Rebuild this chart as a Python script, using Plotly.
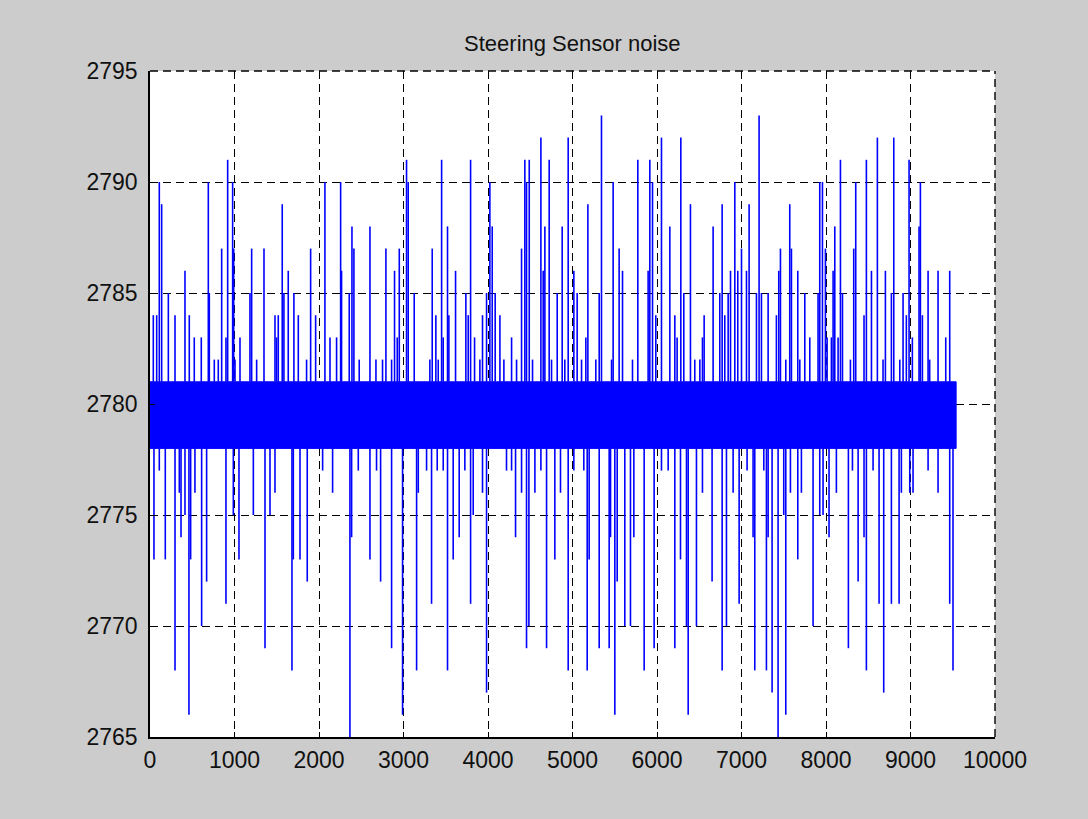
import plotly.graph_objects as go

# Steering angle sensor readings: a dense noise band plus isolated excursions
band_low = 2778
band_high = 2781
sample_count = 9540

up_x = [39, 79, 110, 138, 217, 296, 414, 465, 524, 607, 690, 702, 761, 808, 848, 899, 919, 978, 990,
        1006, 1065, 1183, 1203, 1262, 1349, 1479, 1498, 1518, 1565, 1585, 1636, 1703, 1755, 1853, 1901,
        1960, 2070, 2130, 2208, 2256, 2267, 2358, 2390, 2413,
        2476, 2603, 2674, 2752, 2792, 2859, 2894, 2926, 2950, 3036, 3056, 3127, 3312, 3340, 3383, 3411,
        3451, 3470, 3521, 3537, 3616, 3738, 3766, 3794, 3841, 3904, 3935, 3983, 4022, 4050, 4085, 4141,
        4188, 4279, 4338, 4397, 4436, 4456, 4488, 4527, 4626, 4653, 4673, 4724, 4752, 4819, 4878, 4909,
        4949, 5016, 5055, 5107, 5158, 5182, 5276, 5316, 5343, 5462, 5481, 5552, 5592, 5710, 5773, 5895,
        5915, 5947, 5986, 6053, 6152, 6211, 6238, 6282, 6317, 6396, 6447, 6507, 6538, 6558, 6664, 6743,
        6771, 6802, 6842, 6870, 6921, 6956, 7000, 7059, 7090, 7177, 7208, 7236, 7315, 7413, 7441,
        7461, 7524, 7571, 7591, 7666, 7690, 7749, 7808, 7906, 7926, 7958, 7993, 8013, 8064, 8084, 8104,
        8143, 8171, 8195, 8289, 8328, 8352, 8450, 8478, 8538, 8608, 8675, 8703, 8774, 8802, 8873, 8912,
        8951, 8983, 9022, 9101, 9117, 9141, 9208, 9227, 9326, 9417, 9464]
up_val = [2784, 2784, 2790, 2789, 2785, 2784, 2786, 2784, 2783, 2783, 2790, 2785, 2782, 2782, 2787, 2783, 2791, 2790, 2787,
          2782, 2783, 2785, 2787, 2782, 2787, 2784, 2783, 2784, 2789, 2785, 2786, 2785, 2784, 2782, 2787,
          2784, 2790, 2783, 2783, 2790, 2786, 2785, 2788, 2787,
          2782, 2788, 2782, 2782, 2787, 2782, 2786, 2783, 2787, 2791, 2790, 2785, 2782, 2787, 2784, 2782,
          2791, 2783, 2788, 2784, 2786, 2785, 2784, 2791, 2783, 2782, 2784, 2785, 2790, 2788, 2785, 2784,
          2782, 2783, 2782, 2787, 2791, 2790, 2791, 2782, 2792, 2786, 2788, 2791, 2782, 2785, 2788, 2782,
          2792, 2786, 2785, 2782, 2783, 2789, 2782, 2785, 2793, 2782, 2790, 2787, 2786, 2782, 2791, 2786,
          2791, 2790, 2784, 2792, 2788, 2784, 2783, 2792, 2785, 2789, 2782, 2782, 2783, 2784, 2788, 2785,
          2789, 2784, 2785, 2786, 2790, 2786, 2787, 2786, 2789, 2785, 2793, 2785, 2785, 2784, 2786,
          2787, 2782, 2789, 2787, 2786, 2782, 2785, 2783, 2785, 2790, 2790, 2787, 2783, 2783, 2786, 2788,
          2783, 2791, 2785, 2782, 2787, 2790, 2784, 2791, 2786, 2792, 2782, 2786, 2785, 2792, 2782, 2785,
          2784, 2791, 2783, 2788, 2790, 2784, 2786, 2782, 2786, 2783, 2786]

down_x = [47, 110, 181, 296, 347, 367, 414, 461, 481, 532, 611, 670, 899, 986, 1053, 1223, 1361, 1420,
          1479, 1680, 1696, 1775, 1861, 2043, 2161, 2366, 2386,
          2465, 2603, 2681, 2729, 2859, 2989, 3155, 3175, 3273, 3332, 3399, 3470, 3521, 3588, 3659, 3726,
          3794, 3825, 3935, 3983, 4219, 4279, 4326, 4397, 4456, 4484, 4555, 4626, 4693, 4791, 4858, 4949,
          5016, 5134, 5174, 5197, 5316, 5434, 5450, 5501, 5529, 5619, 5686, 5726, 5848, 5966, 6053, 6132,
          6211, 6278, 6349, 6369, 6467, 6538, 6652, 6771, 6822, 6901, 6972, 7066, 7137, 7157, 7264, 7295,
          7315, 7362, 7433,
          7500, 7524, 7579, 7666, 7709, 7847, 7926, 7965, 8036, 8123, 8265, 8313, 8380, 8450, 8478, 8557,
          8628, 8683, 8774, 8865, 8892, 8991, 9030, 9208, 9326, 9464, 9503]
down_val = [2773, 2777, 2773, 2768, 2776, 2774, 2775, 2766, 2773, 2776, 2770, 2772, 2771, 2775, 2773, 2775, 2769, 2775,
            2776, 2768, 2773, 2773, 2772, 2777, 2776, 2765, 2774,
            2777, 2773, 2777, 2772, 2769, 2766, 2768, 2776, 2777, 2771, 2777, 2777, 2768, 2773, 2774, 2777,
            2771, 2775, 2776, 2767, 2777, 2777, 2774, 2776, 2769, 2770, 2776, 2777, 2769, 2773, 2776, 2768,
            2777, 2777, 2768, 2773, 2769, 2769, 2774, 2766, 2772, 2770, 2770, 2774, 2768, 2769, 2777, 2777,
            2769, 2773, 2770, 2766, 2770, 2776, 2772, 2768, 2770, 2776, 2771, 2777, 2774, 2768, 2777, 2768,
            2774, 2767, 2765,
            2775, 2766, 2776, 2773, 2776, 2770, 2775, 2775, 2774, 2776, 2769, 2777, 2772, 2774, 2768, 2777,
            2771, 2767, 2771, 2771, 2776, 2776, 2776, 2777, 2776, 2771, 2768]

x_ticks = [0, 1000, 2000, 3000, 4000, 5000, 6000, 7000, 8000, 9000, 10000]
y_ticks = [2765, 2770, 2775, 2780, 2785, 2790, 2795]

BLUE = "#0000ff"
GRID_DASH = "8px,5px"

# vertical strokes for every excursion, leaving from the edge of the band
seg_x, seg_y = [], []
for xv, v in zip(up_x, up_val):
    seg_x += [xv, xv, None]
    seg_y += [band_high, v, None]
for xv, v in zip(down_x, down_val):
    seg_x += [xv, xv, None]
    seg_y += [band_low, v, None]

fig = go.Figure()
fig.add_trace(go.Scatter(
    x=[0, sample_count, sample_count, 0, 0],
    y=[band_low, band_low, band_high, band_high, band_low],
    mode="lines", fill="toself", fillcolor=BLUE,
    line=dict(color=BLUE, width=1), hoverinfo="skip", showlegend=False,
))
fig.add_trace(go.Scatter(
    x=seg_x, y=seg_y, mode="lines",
    line=dict(color=BLUE, width=1.6), connectgaps=False, showlegend=False,
))

axis_font = dict(family="Liberation Sans, Arial, sans-serif", size=23, color="#111111")
fig.update_xaxes(
    range=[0, 10000], tickvals=x_ticks, ticktext=[str(t) for t in x_ticks],
    showgrid=True, gridcolor="black", gridwidth=1.4, griddash=GRID_DASH,
    showline=True, linecolor="black", linewidth=1.5,
    ticks="inside", ticklen=5, tickcolor="black",
    tickfont=axis_font, zeroline=False, ticklabelstandoff=2,
)
fig.update_yaxes(
    range=[2765, 2795], tickvals=y_ticks, ticktext=[str(t) for t in y_ticks],
    showgrid=True, gridcolor="black", gridwidth=1.4, griddash=GRID_DASH,
    showline=True, linecolor="black", linewidth=1.5,
    ticks="inside", ticklen=5, tickcolor="black",
    tickfont=axis_font, zeroline=False, ticklabelstandoff=6,
)

# dashed top and right edges of the axes box
fig.add_shape(type="line", xref="paper", yref="paper", x0=0, x1=1, y0=1, y1=1,
              line=dict(color="black", width=1.4, dash=GRID_DASH), layer="above")
fig.add_shape(type="line", xref="paper", yref="paper", x0=1, x1=1, y0=0, y1=1,
              line=dict(color="black", width=1.4, dash=GRID_DASH), layer="above")

fig.update_layout(
    width=1088, height=819,
    margin=dict(l=150, r=93, t=71, b=82),
    paper_bgcolor="#cccccc", plot_bgcolor="white",
    title=dict(text="Steering Sensor noise", x=0.526, xanchor="center",
               y=1 - 43 / 819, yanchor="middle", yref="container",
               font=dict(family="Liberation Sans, Arial, sans-serif", size=22, color="#111111")),
    showlegend=False,
)

fig.write_html("out.html")
